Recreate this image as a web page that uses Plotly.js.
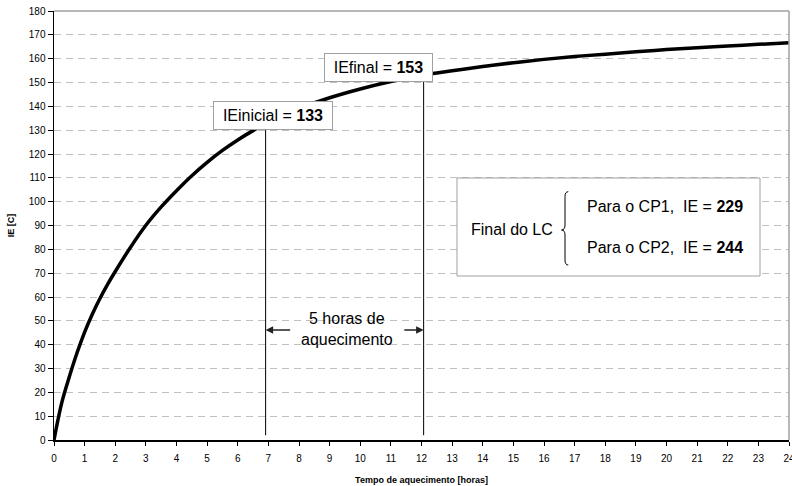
<!DOCTYPE html>
<html>
<head>
<meta charset="utf-8">
<script src="https://cdn.plot.ly/plotly-3.0.1.min.js"></script>
<style>html,body{margin:0;padding:0;background:#fff;}#chart{width:792px;height:486px;}</style>
</head>
<body>
<div id="chart"></div>
<script>
// Heating time [hours] and IE [C]
const hours = [0, 0.25, 0.5, 0.75, 1, 1.25, 1.5, 1.75, 2, 2.5, 3, 3.5, 4, 4.5, 5, 5.5, 6, 6.5, 7, 7.5, 8, 9, 10, 11, 12, 13, 14, 15, 16, 17, 18, 19, 20, 21, 22, 23, 24];
const ie    = [0, 15.5, 26.5, 36.5, 45.3, 52.8, 59.4, 65.3, 70.7, 80.9, 90.1, 97.8, 104.6, 110.9, 116.5, 121.5, 125.9, 129.8, 133.3, 136.4, 139.1, 143.6, 147.3, 150.4, 153.0, 154.9, 156.7, 158.3, 159.7, 160.9, 161.9, 162.9, 163.8, 164.6, 165.3, 166.0, 166.7];

// Marker lines: start / end of the 5 heating hours
const markerHours = [6.91, 12.07];
const markerIE = [133, 153];
const markerLabels = ["IEinicial = <b>133</b>", "IEfinal = <b>153</b>"];

// End-of-cycle values
const cpNames = ["CP1", "CP2"];
const cpIE = [229, 244];

const xTicks = Array.from({length: 25}, (_, i) => i);
const yTicks = Array.from({length: 19}, (_, i) => i * 10);

const FONT = "Liberation Sans, Arial, sans-serif";
const L = 54, R = 3, T = 11, B = 46, W = 792, H = 486;
const pw = W - L - R, ph = H - T - B;
const px = v => (v - L) / pw;          // pixel -> paper x
const py = v => (H - B - v) / ph;      // pixel -> paper y

const traces = [
  {
    x: hours, y: ie, type: "scatter", mode: "lines",
    line: {color: "#000", width: 3.5, shape: "spline", smoothing: 1},
    hoverinfo: "skip", showlegend: false
  }
];
markerHours.forEach((h, i) => {
  traces.push({
    x: [h, h], y: [2, markerIE[i]], type: "scatter", mode: "lines",
    line: {color: "#000", width: 1}, hoverinfo: "skip", showlegend: false
  });
});

const shapes = [
  // top & right frame (gray)
  {type: "line", xref: "paper", yref: "paper", x0: 0, x1: 1, y0: 1, y1: 1, line: {color: "#a0a0a0", width: 1.5}},
  {type: "line", xref: "paper", yref: "paper", x0: 1, x1: 1, y0: 0, y1: 1, line: {color: "#a0a0a0", width: 1.5}},
  // box for "Final do LC"
  {type: "rect", xref: "paper", yref: "paper", layer: "above",
   x0: px(457), x1: px(760), y0: py(276), y1: py(178),
   line: {color: "#a0a0a0", width: 1}, fillcolor: "#fff"},
  // curly brace
  {type: "path", xref: "paper", yref: "paper", layer: "above",
   path: `M ${px(568.3)},${py(191.7)} Q ${px(565)},${py(191.7)} ${px(565)},${py(196.7)} ` +
         `L ${px(565)},${py(225)} Q ${px(565)},${py(230)} ${px(561.5)},${py(230)} ` +
         `Q ${px(565)},${py(230)} ${px(565)},${py(235)} ` +
         `L ${px(565)},${py(260)} Q ${px(565)},${py(265)} ${px(568.3)},${py(265)}`,
   line: {color: "#000", width: 1}}
];

const annotations = [
  {xref: "paper", yref: "paper", x: px(213), y: py(101), text: markerLabels[0], showarrow: false,
   font: {family: FONT, size: 16, color: "#000"}, bgcolor: "#fff", bordercolor: "#a0a0a0",
   borderwidth: 1, borderpad: 3, width: 112, height: 21},
  {xref: "paper", yref: "paper", x: px(378.8), y: py(52.5), text: markerLabels[1], showarrow: false,
   font: {family: FONT, size: 16, color: "#000"}, bgcolor: "#fff", bordercolor: "#a0a0a0",
   borderwidth: 1, borderpad: 3, width: 101, height: 21},
  // arrows
  {x: markerHours[0], y: 46.2, ax: 7.76, ay: 46.2, axref: "x", ayref: "y", xref: "x", yref: "y",
   text: "", showarrow: true, arrowhead: 2, arrowsize: 1, arrowwidth: 1.5, arrowcolor: "#222"},
  {x: markerHours[1], y: 46.2, ax: 11.39, ay: 46.2, axref: "x", ayref: "y", xref: "x", yref: "y",
   text: "", showarrow: true, arrowhead: 2, arrowsize: 1, arrowwidth: 1.5, arrowcolor: "#222"},
  {xref: "x", yref: "y", x: (markerHours[0] + markerHours[1]) / 2 + 0.07, y: 46.7,
   text: "5 horas de<br>aquecimento", showarrow: false,
   font: {family: FONT, size: 16, color: "#000"}},
  // final box texts
  {xref: "paper", yref: "paper", x: px(512.3), y: py(230), text: "Final do LC", showarrow: false,
   font: {family: FONT, size: 16, color: "#000"}},
  {xref: "paper", yref: "paper", x: px(585), y: py(206.7), xanchor: "left",
   text: `Para o ${cpNames[0]},  IE = <b>${cpIE[0]}</b>`, showarrow: false,
   font: {family: FONT, size: 16, color: "#000"}},
  {xref: "paper", yref: "paper", x: px(585), y: py(247.3), xanchor: "left",
   text: `Para o ${cpNames[1]},  IE = <b>${cpIE[1]}</b>`, showarrow: false,
   font: {family: FONT, size: 16, color: "#000"}}
];

const layout = {
  width: W, height: H,
  margin: {l: L, r: R, t: T, b: B, pad: 0},
  paper_bgcolor: "#fff", plot_bgcolor: "#fff",
  font: {family: FONT, size: 10, color: "#000"},
  showlegend: false,
  xaxis: {
    range: [0, 24], tickvals: xTicks, ticktext: xTicks.map(String),
    showgrid: false, zeroline: false, showline: true, linecolor: "#000", linewidth: 1.5,
    ticks: "outside", ticklen: 4, tickcolor: "#000", tickwidth: 1,
    ticklabeloverflow: "allow", ticklabelstandoff: 4,
    tickfont: {family: FONT, size: 10, color: "#000"},
    title: {text: "<b>Tempo de aquecimento [horas]</b>", font: {family: FONT, size: 9, color: "#000"}, standoff: 14},
    fixedrange: true
  },
  yaxis: {
    range: [0, 180], tickvals: yTicks, ticktext: yTicks.map(String),
    showgrid: true, gridcolor: "#c0c0c0", gridwidth: 1, griddash: "7px,5px",
    zeroline: false, showline: true, linecolor: "#000", linewidth: 1.5,
    ticks: "outside", ticklen: 5, tickcolor: "#000", tickwidth: 1,
    tickfont: {family: FONT, size: 10, color: "#000"},
    title: {text: "<b>IE [C]</b>", font: {family: FONT, size: 9, color: "#000"}, standoff: 12},
    fixedrange: true
  },
  shapes: shapes,
  annotations: annotations
};

Plotly.newPlot("chart", traces, layout, {staticPlot: true, displayModeBar: false});
</script>
</body>
</html>
